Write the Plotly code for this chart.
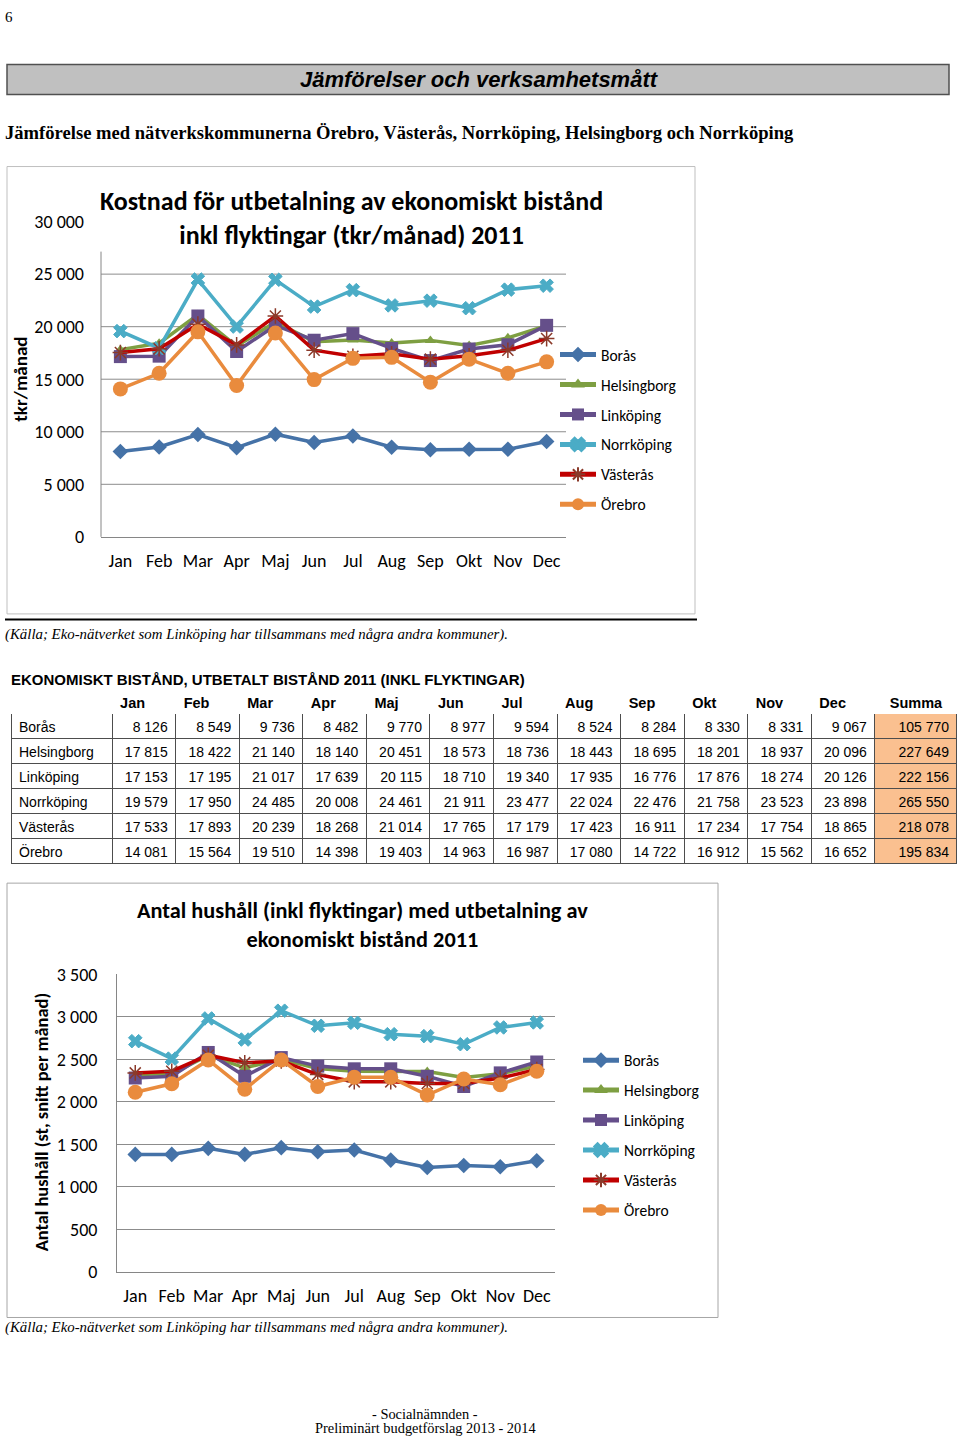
import plotly.graph_objects as go

W, H = 960, 1445
K = 1.0163          # vertical correction measured on the photographed page
CY = H / 2

months = ["Jan", "Feb", "Mar", "Apr", "Maj", "Jun", "Jul", "Aug", "Sep", "Okt", "Nov", "Dec"]
cities = ["Borås", "Helsingborg", "Linköping", "Norrköping", "Västerås", "Örebro"]

# Utbetalt bistånd 2011 (tkr/månad)
cost_boras = [8126, 8549, 9736, 8482, 9770, 8977, 9594, 8524, 8284, 8330, 8331, 9067]
cost_helsingborg = [17815, 18422, 21140, 18140, 20451, 18573, 18736, 18443, 18695, 18201, 18937, 20096]
cost_linkoping = [17153, 17195, 21017, 17639, 20115, 18710, 19340, 17935, 16776, 17876, 18274, 20126]
cost_norrkoping = [19579, 17950, 24485, 20008, 24461, 21911, 23477, 22024, 22476, 21758, 23523, 23898]
cost_vasteras = [17533, 17893, 20239, 18268, 21014, 17765, 17179, 17423, 16911, 17234, 17754, 18865]
cost_orebro = [14081, 15564, 19510, 14398, 19403, 14963, 16987, 17080, 14722, 16912, 15562, 16652]
cost_summa = [105770, 227649, 222156, 265550, 218078, 195834]

# Antal hushåll (st, snitt per månad)
hh_boras = [1382, 1382, 1453, 1382, 1461, 1413, 1433, 1315, 1228, 1252, 1236, 1307]
hh_helsingborg = [2320, 2330, 2545, 2400, 2500, 2390, 2360, 2360, 2355, 2285, 2330, 2420]
hh_linkoping = [2280, 2300, 2580, 2300, 2520, 2420, 2388, 2388, 2300, 2180, 2340, 2468]
hh_norrkoping = [2713, 2508, 2980, 2732, 3071, 2894, 2929, 2795, 2772, 2677, 2874, 2933]
hh_vasteras = [2340, 2360, 2548, 2460, 2480, 2320, 2235, 2235, 2215, 2215, 2280, 2380]
hh_orebro = [2112, 2212, 2492, 2148, 2492, 2180, 2288, 2288, 2080, 2268, 2200, 2360]

y1_ticks = [0, 5000, 10000, 15000, 20000, 25000, 30000]
y2_ticks = [0, 500, 1000, 1500, 2000, 2500, 3000, 3500]
table_header = [""] + months + ["Summa"]

cost_series = [cost_boras, cost_helsingborg, cost_linkoping, cost_norrkoping, cost_vasteras, cost_orebro]
hh_series = [hh_boras, hh_helsingborg, hh_linkoping, hh_norrkoping, hh_vasteras, hh_orebro]

colors = ["#4572A7", "#7E9F42", "#654F8A", "#4BACC6", "#C00000", "#E98B3D"]
symbols = ["diamond", "triangle-up", "square", "x", "asterisk", "circle"]
msizes = [12, 10, 13, 12, 13, 15]

SANS = "Carlito, Lato, 'Open Sans', sans-serif"
ARIAL = "'Liberation Sans', Arial, sans-serif"
SERIF = "'Liberation Serif', 'Times New Roman', serif"


def Y(y):
    return CY + (y - CY) * K


def px(x):
    return x / W


def py(y):
    return 1 - Y(y) / H


def py_raw(y):
    return 1 - y / H


def fmt(v):
    return f"{v:,}".replace(",", " ")


fig = go.Figure()


def marker_for(i):
    m = dict(symbol=symbols[i], size=msizes[i], color=colors[i])
    if symbols[i] == "asterisk":
        m["line"] = dict(color="#8B3A2A", width=1.5)
    elif symbols[i] == "x":
        m["line"] = dict(color=colors[i], width=1)
    else:
        m["line"] = dict(width=0)
    return m


for i, name in enumerate(cities):
    fig.add_trace(go.Scatter(
        x=months, y=cost_series[i], name=name, mode="lines+markers",
        line=dict(color=colors[i], width=3.5), marker=marker_for(i),
        xaxis="x", yaxis="y", legend="legend", legendgroup=f"a{i}",
    ))
for i, name in enumerate(cities):
    fig.add_trace(go.Scatter(
        x=months, y=hh_series[i], name=name, mode="lines+markers",
        line=dict(color=colors[i], width=3.5), marker=marker_for(i),
        xaxis="x2", yaxis="y2", legend="legend2", legendgroup=f"b{i}",
    ))

# Table
cell_cols = [cities]
for j in range(12):
    cell_cols.append([fmt(r[j]) for r in cost_series])
cell_cols.append([fmt(s) for s in cost_summa])
fills = [["white"] * 6 for _ in range(13)] + [["#FAC090"] * 6]
col_w = [101] + [63.5] * 12 + [82]
row_h = 24.6 * K

fig.add_trace(go.Table(
    domain=dict(x=[px(11), px(957)], y=[py(866), py(688.7)]),
    columnwidth=col_w,
    header=dict(values=table_header, align=["left"] * 13 + ["center"],
                fill_color="white", line=dict(color="white", width=1),
                font=dict(family=ARIAL, size=14.5, color="black", weight="bold"),
                height=row_h),
    cells=dict(values=cell_cols, align=["left"] + ["right"] * 13,
               fill_color=fills, line=dict(color="#4d4d4d", width=1),
               font=dict(family=ARIAL, size=14, color="black"), height=row_h),
))

fig.update_layout(
    width=W, height=H, margin=dict(l=0, r=0, t=0, b=0),
    paper_bgcolor="white", plot_bgcolor="white",
    font=dict(family=SANS, color="black"),
    xaxis=dict(domain=[px(101), px(566)], range=[-0.5, 11.5], anchor="y",
               showline=True, linecolor="#868686", linewidth=1, ticks="",
               showgrid=False, tickfont=dict(family=SANS, size=18),
               ticklabelstandoff=8),
    yaxis=dict(domain=[py(537), py(222)], range=[0, 30000], anchor="x",
               tickvals=y1_ticks, ticktext=[fmt(v) for v in y1_ticks],
               showgrid=False, showline=False, zeroline=False, ticks="",
               tickfont=dict(family=SANS, size=18), ticklabelstandoff=16),
    xaxis2=dict(domain=[px(117), px(555)], range=[-0.5, 11.5], anchor="y2",
                showline=True, linecolor="#868686", linewidth=1, ticks="",
                showgrid=False, tickfont=dict(family=SANS, size=18),
                ticklabelstandoff=7),
    yaxis2=dict(domain=[py(1271.5), py(974)], range=[0, 3500], anchor="x2",
                tickvals=y2_ticks, ticktext=[fmt(v) for v in y2_ticks],
                showgrid=True, gridcolor="#8c8c8c", gridwidth=1, showline=True,
                linecolor="#868686", zeroline=False, ticks="",
                tickfont=dict(family=SANS, size=18), ticklabelstandoff=15),
    legend=dict(x=px(555), y=py(338.3), xanchor="left", yanchor="top",
                font=dict(family=SANS, size=15.5, color="black"),
                tracegroupgap=6.8, itemwidth=36, bgcolor="rgba(0,0,0,0)",
                itemsizing="constant"),
    legend2=dict(x=px(578), y=py(1043.3), xanchor="left", yanchor="top",
                 font=dict(family=SANS, size=15.5, color="black"),
                 tracegroupgap=6.8, itemwidth=36, bgcolor="rgba(0,0,0,0)",
                 itemsizing="constant"),
)

shapes = []
shapes.append(dict(type="rect", xref="paper", yref="paper", x0=px(7), x1=px(949),
                   y0=py(65), y1=py(95), fillcolor="#C0C0C0",
                   line=dict(color="#505050", width=1.5), layer="below"))
shapes.append(dict(type="rect", xref="paper", yref="paper", x0=px(7), x1=px(695),
                   y0=py(167), y1=py(614), fillcolor="rgba(0,0,0,0)",
                   line=dict(color="#BFBFBF", width=1), layer="below"))
shapes.append(dict(type="line", xref="paper", yref="paper", x0=px(5), x1=px(697),
                   y0=py(619.5), y1=py(619.5), line=dict(color="black", width=2)))
shapes.append(dict(type="rect", xref="paper", yref="paper", x0=px(7), x1=px(718),
                   y0=py(883), y1=py(1317), fillcolor="rgba(0,0,0,0)",
                   line=dict(color="#A6A6A6", width=1), layer="below"))
for v in y1_ticks[1:-1]:
    shapes.append(dict(type="line", xref="x domain", yref="y", x0=0, x1=1, y0=v, y1=v,
                       line=dict(color="#8c8c8c", width=1), layer="below"))
shapes.append(dict(type="line", xref="x domain", yref="paper", x0=0, x1=0,
                   y0=py(537), y1=py(252), line=dict(color="#868686", width=1),
                   layer="below"))
fig.update_layout(shapes=shapes)

ann = []


def text(x, y, s, size, family, xanchor="left", bold=False, italic=False,
         angle=0, color="black", raw=False):
    if bold:
        s = f"<b>{s}</b>"
    if italic:
        s = f"<i>{s}</i>"
    yy = py_raw(y) if raw else py(y)
    ann.append(dict(x=px(x), y=yy, xref="paper", yref="paper", text=s,
                    showarrow=False, xanchor=xanchor, yanchor="middle",
                    textangle=angle, font=dict(size=size, family=family, color=color)))


text(3, 6.5, "6", 15, SERIF, raw=True)
text(479, 80, "Jämförelser och verksamhetsmått", 22, ARIAL, "center", bold=True, italic=True)
text(3, 133, "Jämförelse med nätverkskommunerna Örebro, Västerås, Norrköping, Helsingborg och Norrköping",
     18.6, SERIF, bold=True)
text(351.5, 218, "Kostnad för utbetalning av ekonomiskt bistånd<br>inkl flyktingar (tkr/månad) 2011",
     26, SANS, "center", bold=True)
text(21, 380, "tkr/månad", 19, SANS, "center", bold=True, angle=-90)
text(3, 635, "(Källa; Eko-nätverket som Linköping har tillsammans med några andra kommuner).",
     14.85, SERIF, italic=True)
text(9, 680, "EKONOMISKT BISTÅND, UTBETALT BISTÅND 2011 (INKL FLYKTINGAR)", 15, ARIAL, bold=True)
text(362.5, 924.5, "Antal hushåll (inkl flyktingar) med utbetalning av<br>ekonomiskt bistånd 2011",
     22.3, SANS, "center", bold=True)
text(41, 1122, "Antal hushåll (st, snitt per månad)", 18.4, SANS, "center", bold=True, angle=-90)
text(3, 1327, "(Källa; Eko-nätverket som Linköping har tillsammans med några andra kommuner).",
     14.85, SERIF, italic=True)
text(425, 1424.5, "- Socialnämnden -", 14.4, SERIF, "center", raw=True)
text(425, 1438.5, "Preliminärt budgetförslag 2013 - 2014", 14.4, SERIF, "center", raw=True)
fig.update_layout(annotations=ann)

fig.write_html(
    "out.html", config={"displayModeBar": False},
    post_script=("document.body.style.margin='0';"
                 "var d=document.getElementById('{plot_id}');"
                 "d.style.position='absolute';d.style.left='0px';d.style.top='0px';"),
)
